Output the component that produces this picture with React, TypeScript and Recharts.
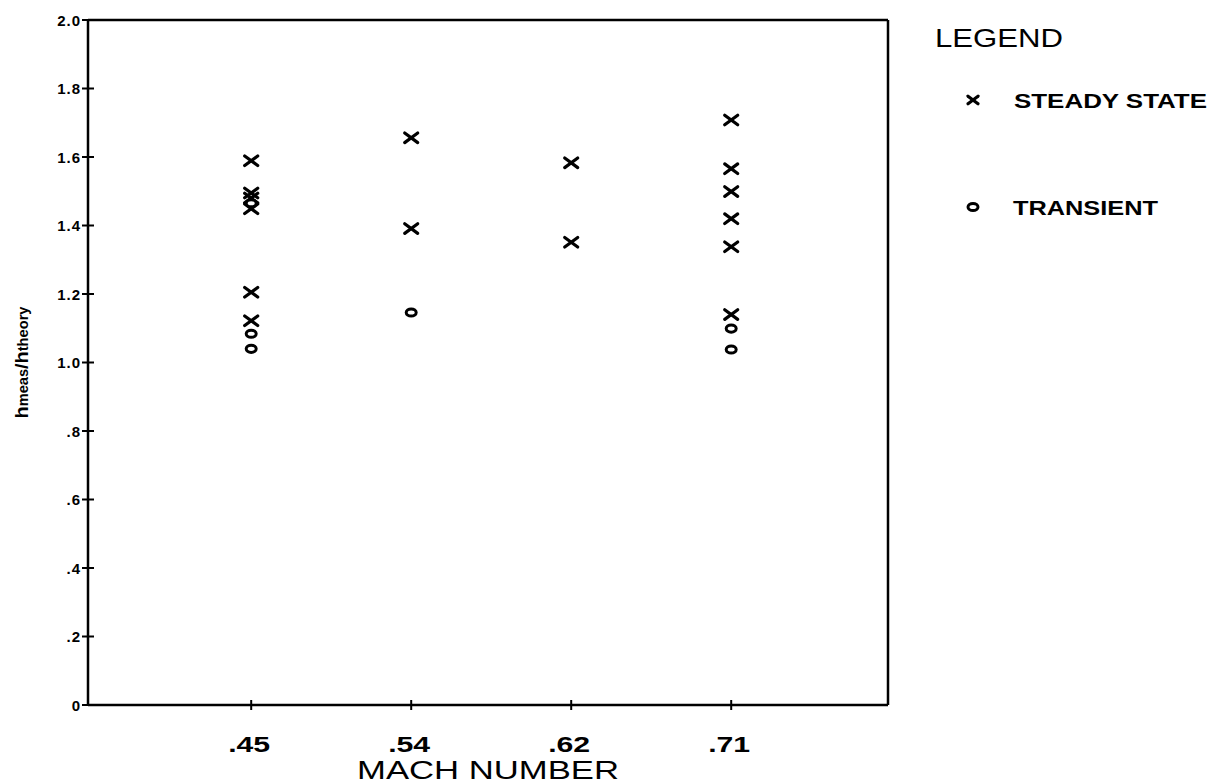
import React from 'react';
import { ScatterChart, Scatter, XAxis, YAxis, ReferenceLine, Legend } from 'recharts';

// Category (Mach number) labels, placed at index positions 0..3
const machLabels = ['.45', '.54', '.62', '.71'];
const machIndex = [0, 1, 2, 3];

// Y ticks
const yTicks = [0, 0.2, 0.4, 0.6, 0.8, 1.0, 1.2, 1.4, 1.6, 1.8, 2.0];
const yTickLabels = ['0', '.2', '.4', '.6', '.8', '1.0', '1.2', '1.4', '1.6', '1.8', '2.0'];

// Steady state values (hmeas/htheory) per Mach number
const steady045 = [1.589, 1.495, 1.48, 1.449, 1.205, 1.122];
const steady054 = [1.656, 1.391];
const steady062 = [1.583, 1.351];
const steady071 = [1.708, 1.566, 1.499, 1.42, 1.338, 1.14];

// Transient values per Mach number
const transient045 = [1.465, 1.084, 1.04];
const transient054 = [1.146];
const transient062: number[] = [];
const transient071 = [1.099, 1.038];

const steadyByMach = [steady045, steady054, steady062, steady071];
const transientByMach = [transient045, transient054, transient062, transient071];

const steadyData = steadyByMach.flatMap((vals, i) => vals.map((v) => ({ x: machIndex[i], y: v })));
const transientData = transientByMach.flatMap((vals, i) => vals.map((v) => ({ x: machIndex[i], y: v })));

const FONT = '"Liberation Sans", Arial, Helvetica, sans-serif';
const TICK_SIZE = 6;
const TICK_MARGIN = 4;

const CrossShape = (props: any) => {
  const { cx, cy, w = 6.5, h = 4.8 } = props;
  if (cx == null || cy == null) return null;
  return (
    <g>
      <line x1={cx - w} y1={cy - h} x2={cx + w} y2={cy + h} stroke="#000" strokeWidth={3.2} strokeLinecap="round" />
      <line x1={cx - w} y1={cy + h} x2={cx + w} y2={cy - h} stroke="#000" strokeWidth={3.2} strokeLinecap="round" />
    </g>
  );
};

const RingShape = (props: any) => {
  const { cx, cy } = props;
  if (cx == null || cy == null) return null;
  return <ellipse cx={cx} cy={cy} rx={5} ry={3.6} fill="#fff" stroke="#000" strokeWidth={3} />;
};

const YTick = (props: any) => {
  const { x, y, payload } = props;
  const axisX = x + TICK_SIZE + TICK_MARGIN;
  const idx = yTicks.findIndex((t) => Math.abs(t - payload.value) < 1e-6);
  const label = idx >= 0 ? yTickLabels[idx] : String(payload.value);
  return (
    <g>
      <line x1={axisX - 6} x2={axisX + 6} y1={y} y2={y} stroke="#000" strokeWidth={2} />
      <text x={axisX - 7} y={y + 5.5} textAnchor="end" fontFamily={FONT} fontWeight="bold" fontSize={15} letterSpacing={1} fill="#000">
        {label}
      </text>
    </g>
  );
};

const XTick = (props: any) => {
  const { x, y, payload } = props;
  const axisY = y - TICK_SIZE - TICK_MARGIN;
  const label = machLabels[Math.round(payload.value)] ?? '';
  return (
    <g>
      <line x1={x} x2={x} y1={axisY - 5} y2={axisY + 5} stroke="#000" strokeWidth={2} />
      <text x={x - 2} y={axisY + 47} textAnchor="middle" fontFamily={FONT} fontWeight="bold" fontSize={22} fill="#000" textLength={42} lengthAdjust="spacingAndGlyphs">
        {label}
      </text>
    </g>
  );
};

const XLabel = (props: any) => {
  const { viewBox } = props;
  if (!viewBox) return null;
  const cx = viewBox.x + viewBox.width / 2;
  return (
    <text x={cx} y={viewBox.y + 74} textAnchor="middle" fontFamily={FONT} fontSize={25} fill="#000" textLength={262} lengthAdjust="spacingAndGlyphs">
      MACH NUMBER
    </text>
  );
};

const YLabel = (props: any) => {
  const { viewBox } = props;
  if (!viewBox) return null;
  const cy = viewBox.y + viewBox.height / 2;
  const cx = 22;
  return (
    <text transform={`rotate(-90, ${cx}, ${cy})`} x={cx} y={cy + 6} textAnchor="middle" fontFamily={FONT} fontWeight="bold" fontSize={19} fill="#000" textLength={112} lengthAdjust="spacingAndGlyphs">
      h<tspan fontSize={14}>meas</tspan>/h<tspan fontSize={14}>theory</tspan>
    </text>
  );
};

const LegendContent = () => (
  <svg width={292} height={240} style={{ display: 'block' }}>
    <text x={10} y={47} fontFamily={FONT} fontSize={25} fill="#000" textLength={128} lengthAdjust="spacingAndGlyphs">
      LEGEND
    </text>
    <CrossShape cx={48} cy={100} w={5} h={3.8} />
    <text x={89} y={108} fontFamily={FONT} fontWeight="bold" fontSize={21} fill="#000" textLength={193} lengthAdjust="spacingAndGlyphs">
      STEADY STATE
    </text>
    <RingShape cx={48} cy={207} />
    <text x={88} y={215} fontFamily={FONT} fontWeight="bold" fontSize={21} fill="#000" textLength={145} lengthAdjust="spacingAndGlyphs">
      TRANSIENT
    </text>
  </svg>
);

export default function App() {
  return (
    <div style={{ position: 'absolute', left: 0, top: 0, background: '#fff' }}>
      <ScatterChart width={1217} height={784} margin={{ top: 20, right: 329, bottom: 19, left: 28 }}>
        <XAxis
          type="number"
          dataKey="x"
          domain={[-1.02, 3.98]}
          ticks={machIndex}
          allowDataOverflow
          height={60}
          tickSize={TICK_SIZE}
          tickMargin={TICK_MARGIN}
          tickLine={false}
          axisLine={{ stroke: '#000', strokeWidth: 2.5 }}
          tick={<XTick />}
          label={<XLabel />}
        />
        <YAxis
          type="number"
          dataKey="y"
          domain={[0, 2]}
          ticks={yTicks}
          allowDataOverflow
          width={60}
          tickSize={TICK_SIZE}
          tickMargin={TICK_MARGIN}
          tickLine={false}
          axisLine={{ stroke: '#000', strokeWidth: 2.5 }}
          tick={<YTick />}
          label={<YLabel />}
        />
        <ReferenceLine y={2} stroke="#000" strokeWidth={2.5} ifOverflow="visible" />
        <ReferenceLine x={3.98} stroke="#000" strokeWidth={2.5} ifOverflow="visible" />
        <Legend
          layout="horizontal"
          align="center"
          verticalAlign="middle"
          wrapperStyle={{ left: 925, top: 0, width: 292, height: 240 }}
          content={<LegendContent />}
        />
        <Scatter name="STEADY STATE" data={steadyData} shape={<CrossShape />} isAnimationActive={false} />
        <Scatter name="TRANSIENT" data={transientData} shape={<RingShape />} isAnimationActive={false} />
      </ScatterChart>
    </div>
  );
}
